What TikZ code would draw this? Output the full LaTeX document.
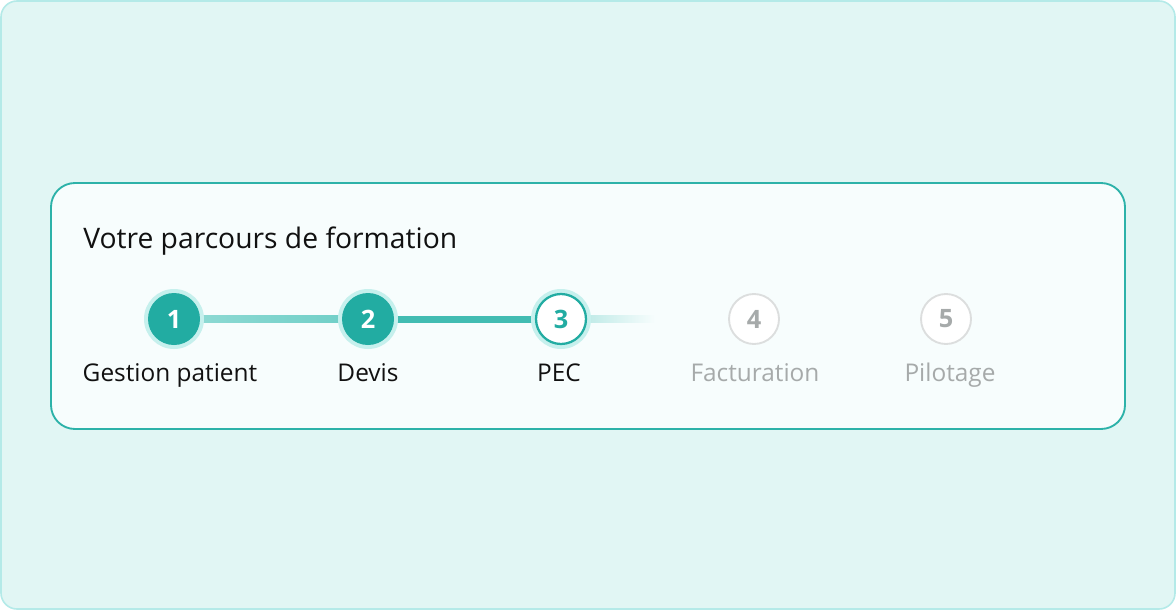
\documentclass[tikz,border=0pt]{standalone}
\usepackage{fontspec}
\setmainfont{Open Sans}
\usetikzlibrary{shadings}
\definecolor{bgout}{HTML}{E1F6F4}
\definecolor{bgborder}{HTML}{B4EAE8}
\definecolor{card}{HTML}{F7FDFD}
\definecolor{cardborder}{HTML}{2DB2A9}
\definecolor{teal}{HTML}{22ACA2}
\definecolor{glow}{HTML}{C6F0ED}
\definecolor{lineA}{HTML}{92DBD5}
\definecolor{lineB}{HTML}{6CCEC6}
\definecolor{lineC}{HTML}{42BCB2}
\definecolor{greyring}{HTML}{DCDEDE}
\definecolor{greytxt}{HTML}{A6AAAA}
\definecolor{ink}{HTML}{111111}
\tikzset{
  glowc/.style={circle, fill=glow, minimum size=45pt, inner sep=0},
  donec/.style={circle, fill=teal, minimum size=39pt, inner sep=0, text=white, font=\fontsize{19}{19}\selectfont\bfseries},
  curc/.style={circle, fill=white, draw=teal, line width=1.7pt, minimum size=37.5pt, inner sep=0, text=teal, font=\fontsize{19}{19}\selectfont\bfseries},
  todoc/.style={circle, fill=white, draw=greyring, line width=1.4pt, minimum size=37.5pt, inner sep=0, text=greytxt, font=\fontsize{19}{19}\selectfont\bfseries},
  lbl/.style={font=\fontsize{18.3}{18.3}\selectfont, text=ink, anchor=base},
  lblg/.style={lbl, text=greytxt},
}
\begin{document}
\begin{tikzpicture}[x=0.75pt,y=-0.75pt]
\useasboundingbox (0,0) rectangle (1176,610);
\draw[fill=bgout, draw=bgborder, line width=1.2, rounded corners=12] (1,1) rectangle (1175,609);
\draw[fill=card, draw=cardborder, line width=1.4, rounded corners=18] (51,183) rectangle (1125,429);
\node[anchor=base west, font=\fontsize{21.2}{21.2}\selectfont, text=ink, inner sep=0] (title) at (83,248) {Votre parcours de formation};
% connectors
\coordinate (c1) at (174,319);
\coordinate (c2) at (368,319);
\coordinate (c3) at (561,319);
\coordinate (c4) at (754,319);
\coordinate (c5) at (946,319);
\shade[left color=lineA, right color=lineB] ([xshift=-1]c1) ++(0,-3.5) rectangle ([xshift=1]c2 |- 0,322.5);
\fill[lineC] (c2) ++(0,-3.5) rectangle (c3 |- 0,322.5);
\shade[left color=lineB!55!card, right color=card] (c3) ++(0,-3.5) rectangle (655,322.5);
% glows
\node[glowc] (g1) at (c1) {};
\node[glowc] (g2) at (c2) {};
\node[glowc] (g3) at (c3) {};
% steps
\node[donec] (s1) at (c1) {1};
\node[donec] (s2) at (c2) {2};
\node[curc] (s3) at (c3) {3};
\node[todoc] (s4) at (c4) {4};
\node[todoc] (s5) at (c5) {5};
% labels
\node[lbl] (l1) at (170,381) {Gestion patient};
\node[lbl] (l2) at (368,381) {Devis};
\node[lbl] (l3) at (559,381) {PEC};
\node[lblg] (l4) at (755,381) {Facturation};
\node[lblg] (l5) at (950,381) {Pilotage};
\end{tikzpicture}
\end{document}
